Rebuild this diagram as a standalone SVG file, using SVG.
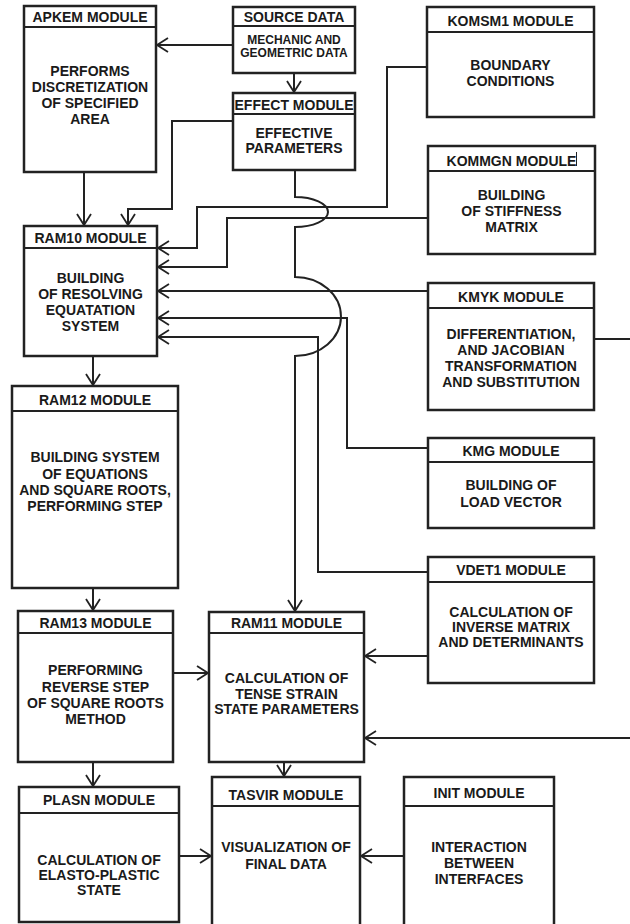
<svg xmlns="http://www.w3.org/2000/svg" width="630" height="924" viewBox="0 0 630 924">
<defs>
<marker id="arr" markerUnits="userSpaceOnUse" markerWidth="14" markerHeight="16" refX="12" refY="8" orient="auto">
<path d="M1,1 L12,8 L1,15" fill="none" stroke="#222" stroke-width="1.8"/>
</marker>
<style>
.box{fill:#fff;stroke:#222;stroke-width:2.5}
.hd{stroke:#222;stroke-width:2.2}
text{font-family:"Liberation Sans",Arial,sans-serif;font-weight:bold;font-size:14px;fill:#1a1a1a;text-anchor:middle}
.sm{font-size:12px}
.c{fill:none;stroke:#222;stroke-width:2}
.ca{fill:none;stroke:#222;stroke-width:2;marker-end:url(#arr)}
</style>
</defs>
<rect width="630" height="924" fill="#fff"/>

<g id="connectors">
<path class="ca" d="M233,45 H157"/>
<path class="ca" d="M294,73 V92"/>
<path class="ca" d="M84,172 V225"/>
<path class="ca" d="M233,121 H172 V209 H128 V225"/>
<path class="ca" d="M427,67 H387 V207 H197 V248 H158"/>
<path class="ca" d="M428,218 H227 V267 H158"/>
<path class="ca" d="M428,291 H158"/>
<path class="ca" d="M428,448 H347 V318 H158"/>
<path class="ca" d="M428,572 H318 V337 H158"/>
<path class="ca" d="M295,170 V197 A33,15 0 0 1 295,227 V277 A46,39.5 0 0 1 295,356 V611"/>
<path class="c" d="M594,339 H630"/>
<path class="ca" d="M630,738 H365"/>
<path class="ca" d="M428,656 H365"/>
<path class="ca" d="M93,356 V385"/>
<path class="ca" d="M93,588 V610"/>
<path class="ca" d="M173,673 H208"/>
<path class="ca" d="M93,762 V786"/>
<path class="ca" d="M284,762 V776"/>
<path class="ca" d="M179,856 H211"/>
<path class="ca" d="M404,856 H361"/>
</g>

<g id="apkem">
<rect class="box" x="24" y="6" width="132" height="166"/>
<line class="hd" x1="24" y1="27" x2="156" y2="27"/>
<text x="90" y="22">APKEM MODULE</text>
<text x="90" y="76">PERFORMS</text>
<text x="90" y="92">DISCRETIZATION</text>
<text x="90" y="108">OF SPECIFIED</text>
<text x="90" y="124">AREA</text>
</g>

<g id="source">
<rect class="box" x="233" y="7" width="122" height="66"/>
<line class="hd" x1="233" y1="26" x2="355" y2="26"/>
<text x="294" y="22">SOURCE DATA</text>
<text class="sm" x="294" y="44">MECHANIC AND</text>
<text class="sm" x="294" y="57">GEOMETRIC DATA</text>
</g>

<g id="effect">
<rect class="box" x="233" y="93" width="122" height="77"/>
<line class="hd" x1="233" y1="114" x2="355" y2="114"/>
<text x="294" y="110">EFFECT MODULE</text>
<text x="294" y="138">EFFECTIVE</text>
<text x="294" y="153">PARAMETERS</text>
</g>

<g id="komsm1">
<rect class="box" x="427" y="7" width="167" height="110"/>
<line class="hd" x1="427" y1="32" x2="594" y2="32"/>
<text x="510.5" y="26">KOMSM1 MODULE</text>
<text x="510.5" y="70">BOUNDARY</text>
<text x="510.5" y="86">CONDITIONS</text>
</g>

<g id="kommgn">
<rect class="box" x="428" y="146" width="167" height="108"/>
<line class="hd" x1="428" y1="171" x2="595" y2="171"/>
<text x="511.5" y="166">KOMMGN MODULE</text>
<line x1="576.5" y1="152" x2="576.5" y2="166" stroke="#222" stroke-width="1"/>
<text x="511.5" y="200">BUILDING</text>
<text x="511.5" y="216">OF STIFFNESS</text>
<text x="511.5" y="232">MATRIX</text>
</g>

<g id="kmyk">
<rect class="box" x="428" y="283" width="166" height="127"/>
<line class="hd" x1="428" y1="308" x2="594" y2="308"/>
<text x="511" y="302">KMYK MODULE</text>
<text x="511" y="339">DIFFERENTIATION,</text>
<text x="511" y="355">AND JACOBIAN</text>
<text x="511" y="371">TRANSFORMATION</text>
<text x="511" y="387">AND SUBSTITUTION</text>
</g>

<g id="kmg">
<rect class="box" x="428" y="438" width="166" height="90"/>
<line class="hd" x1="428" y1="462" x2="594" y2="462"/>
<text x="511" y="456">KMG MODULE</text>
<text x="511" y="490">BUILDING OF</text>
<text x="511" y="507">LOAD VECTOR</text>
</g>

<g id="vdet1">
<rect class="box" x="428" y="557" width="166" height="126"/>
<line class="hd" x1="428" y1="582" x2="594" y2="582"/>
<text x="511" y="575">VDET1 MODULE</text>
<text x="511" y="617">CALCULATION OF</text>
<text x="511" y="632">INVERSE MATRIX</text>
<text x="511" y="647">AND DETERMINANTS</text>
</g>

<g id="ram10">
<rect class="box" x="24" y="226" width="133" height="130"/>
<line class="hd" x1="24" y1="248" x2="157" y2="248"/>
<text x="90.5" y="243">RAM10 MODULE</text>
<text x="90.5" y="283">BUILDING</text>
<text x="90.5" y="299">OF RESOLVING</text>
<text x="90.5" y="315">EQUATATION</text>
<text x="90.5" y="331">SYSTEM</text>
</g>

<g id="ram12">
<rect class="box" x="12" y="386" width="166" height="202"/>
<line class="hd" x1="12" y1="411" x2="178" y2="411"/>
<text x="95" y="405">RAM12 MODULE</text>
<text x="95" y="462">BUILDING SYSTEM</text>
<text x="95" y="479">OF EQUATIONS</text>
<text x="95" y="495">AND SQUARE ROOTS,</text>
<text x="95" y="511">PERFORMING STEP</text>
</g>

<g id="ram13">
<rect class="box" x="18" y="611" width="155" height="151"/>
<line class="hd" x1="18" y1="633" x2="173" y2="633"/>
<text x="95.5" y="628">RAM13 MODULE</text>
<text x="95.5" y="675">PERFORMING</text>
<text x="95.5" y="692">REVERSE STEP</text>
<text x="95.5" y="708">OF SQUARE ROOTS</text>
<text x="95.5" y="724">METHOD</text>
</g>

<g id="ram11">
<rect class="box" x="209" y="612" width="155" height="150"/>
<line class="hd" x1="209" y1="633" x2="364" y2="633"/>
<text x="286.5" y="628">RAM11 MODULE</text>
<text x="286.5" y="683">CALCULATION OF</text>
<text x="286.5" y="699">TENSE STRAIN</text>
<text x="286.5" y="714">STATE PARAMETERS</text>
</g>

<g id="plasn">
<rect class="box" x="19" y="787" width="160" height="135"/>
<line class="hd" x1="19" y1="813" x2="179" y2="813"/>
<text x="99" y="805">PLASN MODULE</text>
<text x="99" y="865">CALCULATION OF</text>
<text x="99" y="880">ELASTO-PLASTIC</text>
<text x="99" y="895">STATE</text>
</g>

<g id="tasvir">
<rect class="box" x="212" y="777" width="148" height="152"/>
<line class="hd" x1="212" y1="806" x2="360" y2="806"/>
<text x="286" y="800">TASVIR MODULE</text>
<text x="286" y="852">VISUALIZATION OF</text>
<text x="286" y="869">FINAL DATA</text>
</g>

<g id="init">
<rect class="box" x="404" y="777" width="150" height="152"/>
<line class="hd" x1="404" y1="806" x2="554" y2="806"/>
<text x="479" y="798">INIT MODULE</text>
<text x="479" y="852">INTERACTION</text>
<text x="479" y="868">BETWEEN</text>
<text x="479" y="884">INTERFACES</text>
</g>
</svg>
